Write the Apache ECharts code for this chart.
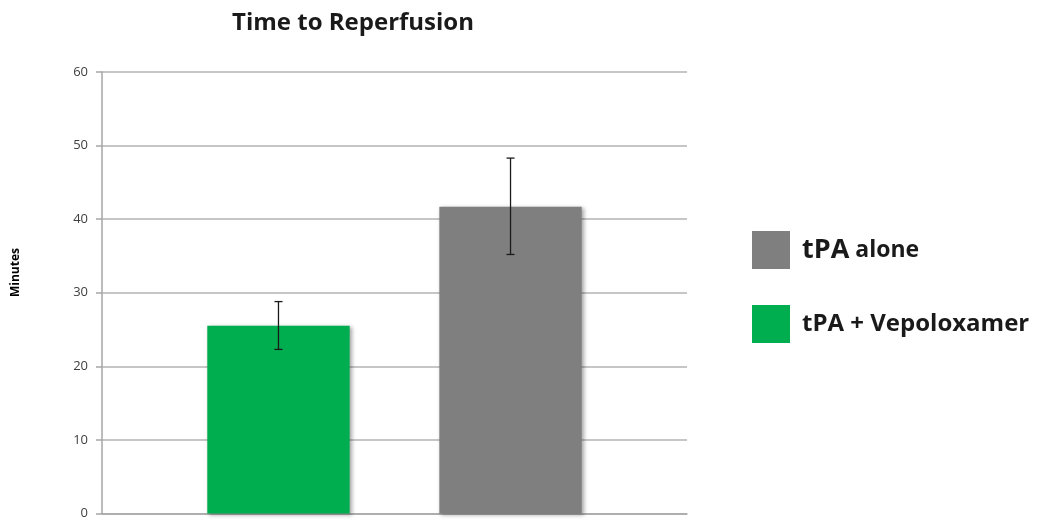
<!DOCTYPE html>
<html>
<head>
<meta charset="utf-8">
<script src="https://cdn.jsdelivr.net/npm/echarts@6/dist/echarts.min.js"></script>
<style>html,body{margin:0;padding:0;background:#fff}#c{width:1040px;height:520px}</style>
</head>
<body>
<div id="c"></div>
<script>
var categories = ['Time to Reperfusion'];
var seriesNames = ['tPA + Vepoloxamer', 'tPA alone'];
var meanValues = [25.5, 41.7];
var errLow = [22.3, 35.2];
var errHigh = [28.8, 48.3];
var legendOrder = ['tPA alone', 'tPA + Vepoloxamer'];
var yTicks = [0, 10, 20, 30, 40, 50, 60];

var colors = {'tPA + Vepoloxamer': '#00AD4F', 'tPA alone': '#7F7F7F'};
var CAT_GAP = 0.36, BAR_GAP = 0.63;

var chart = echarts.init(document.getElementById('c'));

var series = [];
seriesNames.forEach(function (n, i) {
  series.push({
    name: n, type: 'bar', data: [meanValues[i]],
    barGap: (BAR_GAP * 100) + '%', barCategoryGap: (CAT_GAP * 100) + '%',
    itemStyle: { color: colors[n], shadowColor: 'rgba(0,0,0,0.35)', shadowBlur: 4, shadowOffsetX: 2, shadowOffsetY: 1 },
    emphasis: { disabled: true }
  });
});
seriesNames.forEach(function (n, i) {
  series.push({
    type: 'custom', silent: true, z: 10,
    data: [[0, errLow[i], errHigh[i]]],
    renderItem: function (params, api) {
      var bw = api.size([1, 0])[0];
      var barW = bw * (1 - CAT_GAP) / (seriesNames.length + BAR_GAP * (seriesNames.length - 1));
      var step = barW * (1 + BAR_GAP);
      var offset = (i - (seriesNames.length - 1) / 2) * step;
      var lo = api.coord([api.value(0), api.value(1)]);
      var hi = api.coord([api.value(0), api.value(2)]);
      var x = lo[0] + offset, cap = 4;
      var st = { stroke: '#1a1a1a', lineWidth: 1.3 };
      return { type: 'group', children: [
        { type: 'line', shape: { x1: x, y1: lo[1], x2: x, y2: hi[1] }, style: st },
        { type: 'line', shape: { x1: x - cap, y1: lo[1], x2: x + cap, y2: lo[1] }, style: st },
        { type: 'line', shape: { x1: x - cap, y1: hi[1], x2: x + cap, y2: hi[1] }, style: st }
      ]};
    }
  });
});

chart.setOption({
  animation: false,
  textStyle: { fontFamily: 'Open Sans' },
  title: {
    text: 'Time to Reperfusion', left: 348, top: 6, textAlign: 'center',
    textStyle: { fontFamily: 'Open Sans', fontWeight: 'bold', fontSize: 24, color: '#1a1a1a' }
  },
  grid: { left: 102, right: 353, top: 72, bottom: 4, containLabel: false },
  legend: {
    data: legendOrder, orient: 'vertical', left: 752, top: 231, padding: 0,
    itemWidth: 38, itemHeight: 38, itemGap: 36, icon: 'rect', selectedMode: false,
    formatter: function (name) {
      if (name === 'tPA alone') return '{a|tPA}{b|\u00a0alone}';
      return '{c|' + name + '}';
    },
    textStyle: {
      padding: [0, 0, 0, 7],
      rich: {
        a: { fontFamily: 'Open Sans', fontWeight: 'bold', fontSize: 27, color: '#1a1a1a' },
        b: { fontFamily: 'Open Sans', fontWeight: 'bold', fontSize: 23, color: '#1a1a1a' },
        c: { fontFamily: 'Open Sans', fontWeight: 'bold', fontSize: 24, color: '#1a1a1a' }
      }
    }
  },
  xAxis: {
    type: 'category', data: categories,
    axisLine: { show: true, lineStyle: { color: '#a6a6a6', width: 1.5 } },
    axisTick: { show: false }, axisLabel: { show: false }
  },
  yAxis: {
    type: 'value', min: yTicks[0], max: yTicks[yTicks.length - 1], interval: 10,
    axisLine: { show: true, lineStyle: { color: '#a6a6a6', width: 1.5 } },
    axisTick: { show: true, length: 6, lineStyle: { color: '#a6a6a6', width: 1.5 } },
    axisLabel: { margin: 14, fontFamily: 'Open Sans', fontSize: 13, color: '#404040' },
    splitLine: { show: true, lineStyle: { color: '#b3b3b3', width: 1.5 } }
  },
  graphic: [{
    type: 'text', left: 10, top: 248, rotation: Math.PI / 2,
    style: { text: 'Minutes', fontFamily: 'Open Sans', fontWeight: 'bold', fontSize: 12, fill: '#000' }
  }],
  series: series
});
</script>
</body>
</html>
